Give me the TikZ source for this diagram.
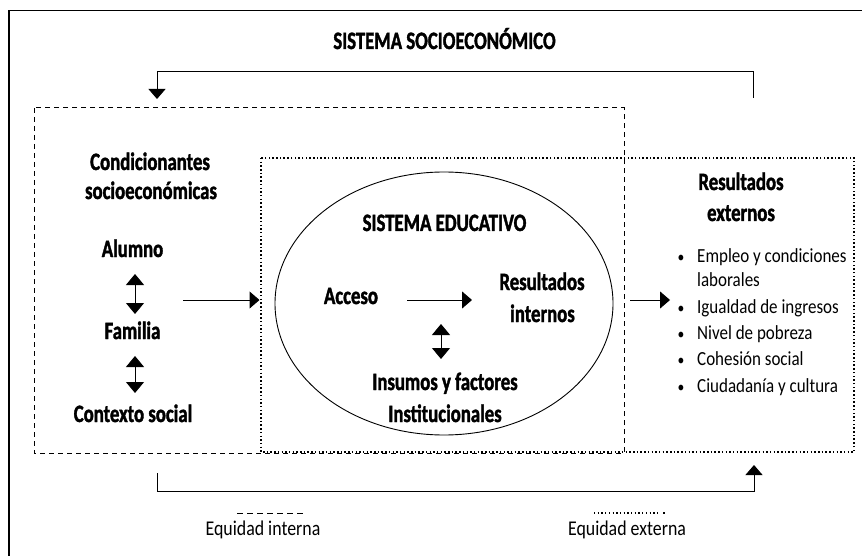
\documentclass[tikz,border=0pt]{standalone}
\usepackage{fontspec}
\setmainfont{Carlito}[FakeStretch=0.85]
\newfontfamily\condbold{Carlito}[FakeStretch=0.75, FakeBold=1.5]
\usetikzlibrary{arrows.meta,shapes.geometric}
\begin{document}
\begin{tikzpicture}[x=1pt,y=-1pt,
  bold/.style={font=\condbold\bfseries\fontsize{25}{29}\selectfont, anchor=base, inner sep=0pt},
  reg/.style={font=\fontsize{20}{24}\selectfont, anchor=base west, inner sep=0pt},
  bul/.style={font=\fontsize{16}{18}\selectfont, anchor=base, inner sep=0pt},
  leg/.style={font=\fontsize{21}{24}\selectfont, anchor=base, inner sep=0pt},
  arr/.style={line width=1pt, -{Triangle[width=17pt,length=10pt]}},
  darr/.style={line width=1pt, {Triangle[width=18pt,length=11pt]}-{Triangle[width=18pt,length=11pt]}},
  dashedline/.style={line width=1pt, dash pattern=on 5pt off 4pt},
  dottedline/.style={line width=1.6pt, dash pattern=on 1.5pt off 2.2pt},
]
\useasboundingbox (0,0) rectangle (862,556);
\fill[white] (0,0) rectangle (862,556);

% outer frame (open to right and bottom)
\draw[line width=1.3pt] (9,556) -- (9,10.5) -- (862,10.5);

% boxes
\draw[dashedline] (34,108) rectangle (624,453);
\draw[dottedline] (261,158) rectangle (854,452);
\node[draw, ellipse, line width=0.9pt, minimum width=338pt, minimum height=263pt, inner sep=0pt] (edu) at (444,303.5) {};

% title
\node[bold] (title) at (444.5,49) {SISTEMA SOCIOECONÓMICO};

% top feedback connector
\coordinate (tr) at (753,98);
\coordinate (tl) at (157,99);
\draw[arr] (tr) -- (753,72) -| (tl);

% left column
\node[bold] (cond1) at (150,170) {Condicionantes};
\node[bold] (cond2) at (151,199) {socioeconómicas};
\node[bold] (alumno) at (132.5,257) {Alumno};
\node[bold] (familia) at (132.5,339) {Familia};
\node[bold] (contexto) at (133,422) {Contexto social};
\coordinate (d1a) at (135,274);
\coordinate (d1b) at (135,314);
\coordinate (d2a) at (135,356);
\coordinate (d2b) at (135,393);
\draw[darr] (d1a) -- (d1b);
\draw[darr] (d2a) -- (d2b);

% arrow into the educational system
\coordinate (la) at (183,300);
\coordinate (lb) at (259.5,300);
\draw[arr] (la) -- (lb);

% educational system
\node[bold] (sised) at (444.5,231) {SISTEMA EDUCATIVO};
\node[bold] (acceso) at (351,304) {Acceso};
\node[bold] (resint1) at (542,290) {Resultados};
\node[bold] (resint2) at (542.5,322) {internos};
\node[bold] (insumos1) at (445,390) {Insumos y factores};
\node[bold] (insumos2) at (445,422) {Institucionales};
\coordinate (aa) at (407,300);
\coordinate (ab) at (472,300);
\draw[arr] (aa) -- (ab);
\coordinate (ia) at (441,324);
\coordinate (ib) at (441,359);
\draw[darr] (ia) -- (ib);

% arrow to external results
\coordinate (ra) at (630,300);
\coordinate (rb) at (670,300);
\draw[arr] (ra) -- (rb);

% external results
\node[bold] (resext1) at (741,190) {Resultados};
\node[bold] (resext2) at (741,221) {externos};
\node[bul] (b1) at (681,262) {\textbullet};
\node[reg] (i1a) at (697,262) {Empleo y condiciones};
\node[reg] (i1b) at (697,286) {laborales};
\node[bul] (b2) at (681,313) {\textbullet};
\node[reg] (i2) at (697,313) {Igualdad de ingresos};
\node[bul] (b3) at (681,339) {\textbullet};
\node[reg] (i3) at (697,339) {Nivel de pobreza};
\node[bul] (b4) at (681,365) {\textbullet};
\node[reg] (i4) at (697,365) {Cohesión social};
\node[bul] (b5) at (681,392) {\textbullet};
\node[reg] (i5) at (697,392) {Ciudadanía y cultura};

% bottom connector
\coordinate (bl) at (157,473);
\coordinate (br) at (754,465);
\draw[arr] (bl) |- (754,491) -- (br);

% legend
\coordinate (lg1a) at (237,513);
\coordinate (lg1b) at (303,513);
\draw[line width=1pt, dash pattern=on 6pt off 4pt] (lg1a) -- (lg1b);
\node[leg] (eqint) at (263,535) {Equidad interna};
\coordinate (lg2a) at (594,513);
\coordinate (lg2b) at (658,513);
\coordinate (lg2c) at (663,513);
\coordinate (lg2d) at (665,513);
\draw[line width=1.4pt, dash pattern=on 1.3pt off 2.4pt] (lg2a) -- (lg2b);
\draw[line width=1.4pt] (lg2c) -- (lg2d);
\node[leg] (eqext) at (627,535) {Equidad externa};
\end{tikzpicture}
\end{document}
